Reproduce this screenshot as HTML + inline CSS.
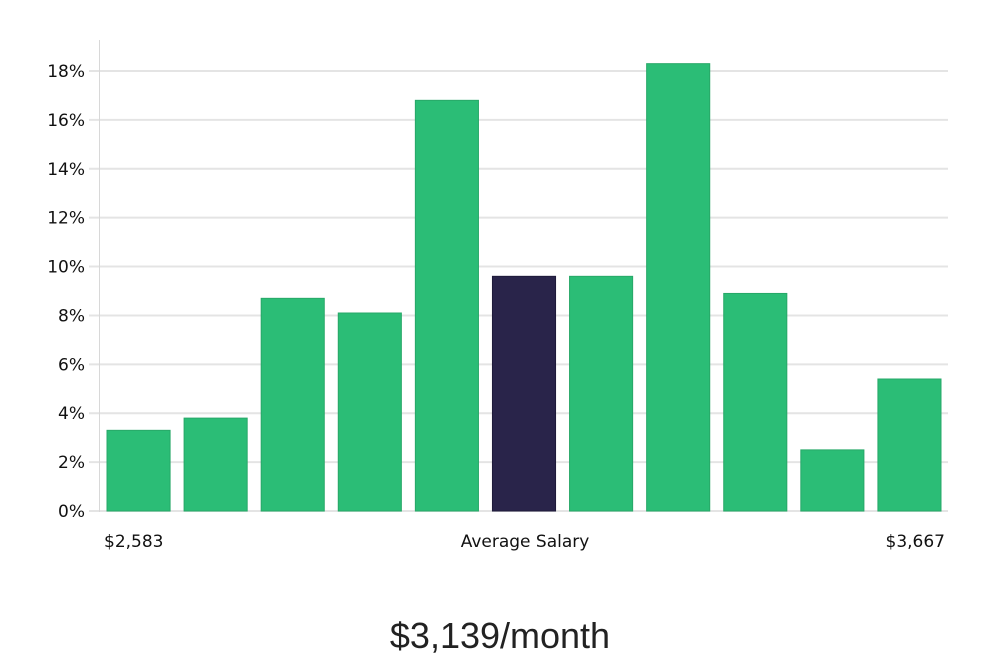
<!DOCTYPE html>
<html><head><meta charset="utf-8"><style>
body{margin:0;background:#fff;width:1000px;height:660px;overflow:hidden}
svg text{font-family:"DejaVu Sans","Liberation Sans",sans-serif}
</style></head><body>
<svg width="1000" height="660">
<g id="grid"></g>
<g id="bars"></g>
<line x1="99.5" y1="40" x2="99.5" y2="512" stroke="#d8d8d8" stroke-width="1"/>
<text x="104" y="547" font-size="17" fill="#111">$2,583</text>
<text x="525" y="547" font-size="17" fill="#111" text-anchor="middle">Average Salary</text>
<text x="945" y="547" font-size="17" fill="#111" text-anchor="end">$3,667</text>
<text x="500" y="648" font-size="36" fill="#222" text-anchor="middle" style="font-family:'Liberation Sans',sans-serif;font-weight:300">$3,139/month</text>
</svg>
<script>
const values=[3.3,3.8,8.7,8.1,16.8,9.6,9.6,18.3,8.9,2.5,5.4];
const highlight=[false,false,false,false,false,true,false,false,false,false,false];
const ticks=[0,2,4,6,8,10,12,14,16,18];
const NS="http://www.w3.org/2000/svg";
const x0=100,x1=948,y0=511,yTop=71;
const y=v=>y0-(v/18)*(y0-yTop);
const band=(x1-x0)/values.length;
const g=document.getElementById('grid'),b=document.getElementById('bars');
ticks.forEach(t=>{
 const l=document.createElementNS(NS,'line');
 l.setAttribute('x1',89);l.setAttribute('x2',x1);l.setAttribute('y1',y(t));l.setAttribute('y2',y(t));
 l.setAttribute('stroke','#e4e4e4');l.setAttribute('stroke-width','2');
 
 
 g.appendChild(l);
 const tx=document.createElementNS(NS,'text');
 tx.setAttribute('x',85);tx.setAttribute('y',y(t)+6);tx.setAttribute('text-anchor','end');
 tx.setAttribute('font-size','17');tx.setAttribute('fill','#111');tx.textContent=t+'%';
 
 
 g.appendChild(tx);
});
values.forEach((v,i)=>{
 const r=document.createElementNS(NS,'rect');
 r.setAttribute('x',x0+i*band+7);r.setAttribute('width',band-14);
 r.setAttribute('y',y(v));r.setAttribute('height',y0-y(v));
 r.setAttribute('fill',highlight[i]?'#29244a':'#2bbd76');
 r.setAttribute('stroke',highlight[i]?'#1e1a3a':'#27a868');r.setAttribute('stroke-width','1');
 
 
 b.appendChild(r);
});
</script>
</body></html>
